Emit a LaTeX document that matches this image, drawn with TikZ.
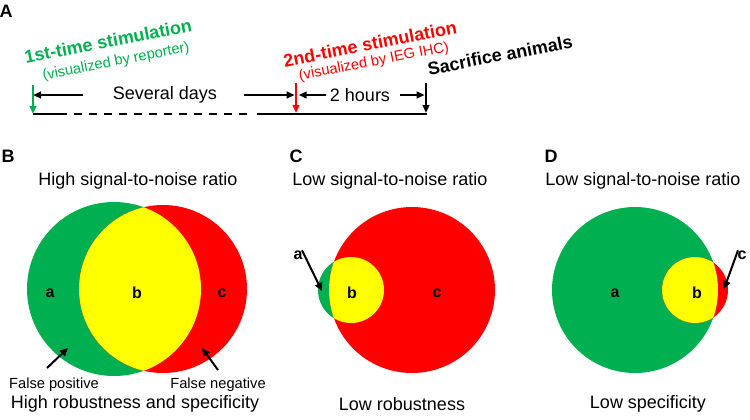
\documentclass[tikz,border=0pt]{standalone}
\usepackage{fontspec}
\setmainfont{Liberation Sans}
\usetikzlibrary{arrows.meta,positioning,calc}

\definecolor{vgreen}{RGB}{0,176,80}
\definecolor{vred}{RGB}{255,0,0}
\definecolor{vyellow}{RGB}{255,255,0}

\begin{document}
\begin{tikzpicture}[x=0.75pt, y=-0.75pt,
    panel/.style={font=\bfseries\fontsize{13.5}{16}\selectfont, inner sep=0pt},
    title/.style={font=\fontsize{13.5}{16}\selectfont, inner sep=0pt},
    note/.style={font=\fontsize{11}{13}\selectfont, inner sep=0pt},
    region/.style={font=\bfseries\fontsize{12}{14}\selectfont, inner sep=0pt},
    stim/.style={font=\bfseries\fontsize{13.5}{16}\selectfont, rotate=11, inner sep=0pt},
    via/.style={font=\fontsize{11}{13}\selectfont, rotate=11, inner sep=0pt},
    stimarrow/.style={line width=1.5pt, -{Triangle[length=6pt,width=5pt]}},
    spanarrow/.style={line width=1.5pt, -{Triangle[length=6pt,width=5pt]}},
    pointer/.style={line width=1.5pt, -{Triangle[length=6pt,width=5.5pt]}},
    axis/.style={line width=1.5pt}
  ]
  \useasboundingbox (0,0) rectangle (750,419);

  % A: timeline
  \node[panel] (panelA) at (6,11) {A};
  \coordinate (s1top) at (33,85);  \coordinate (s1) at (33,114);
  \coordinate (s2top) at (296,83); \coordinate (s2) at (296,113);
  \coordinate (s3top) at (426,83); \coordinate (s3) at (426,113);
  \coordinate (d1) at (67,114);  \coordinate (d2) at (74,114);
  \coordinate (d3) at (247,114); \coordinate (d4) at (257,114);
  \coordinate (end) at (427,114);
  \draw[axis] (s1) -- (d1);
  \draw[axis, dash pattern=on 6pt off 5.25pt] (d2) -- (d3);
  \draw[axis] (d4) -- (end);
  \draw[stimarrow, vgreen] (s1top) -- (s1);
  \draw[stimarrow, vred] (s2top) -- (s2);
  \draw[stimarrow] (s3top) -- (s3);

  % tilted headings
  \node[stim, text=vgreen] (first) at (108,41) {1st-time stimulation};
  \node[via, text=vgreen] (firstvia) at (116,62) {(visualized by reporter)};
  \node[stim, text=vred] (second) at (370,44) {2nd-time stimulation};
  \node[via, text=vred] (secondvia) at (374,62) {(visualized by IEG IHC)};
  \node[stim] (sacrifice) at (500,55) {Sacrifice animals};

  \node[title] (days) at (165,95) {Several days};
  \node[title] (hours) at (360,95) {2 hours};
  \draw[spanarrow] ([xshift=-22]days.west) -- (s1top |- days);
  \draw[spanarrow] ([xshift=20]days.east) -- ([xshift=-1]s2top |- days);
  \draw[spanarrow] ([xshift=-3]hours.west) -- ([xshift=2]s2top |- hours);
  \draw[spanarrow] ([xshift=7]hours.east) -- ([xshift=-1]s3top |- hours);

  % B: high signal-to-noise ratio
  \node[panel] (panelB) at (8,156) {B};
  \node[title] (titleB) at (138,181) {High signal-to-noise ratio};
  \fill[vgreen] (114,289) circle[radius=87];
  \fill[vred] (163,289) circle[radius=84];
  \begin{scope}
    \clip (114,289) circle[radius=87];
    \fill[vyellow] (163,289) circle[radius=84];
  \end{scope}
  \node[region] (aB) at (50,293) {a};
  \node[region] (bB) at (137,293) {b};
  \node[region] (cB) at (222,293) {c};
  \node[note] (fp) at (54,385) {False positive};
  \node[note] (fn) at (218,385) {False negative};
  \coordinate (fpfrom) at (47,368); \coordinate (fptip) at (68,348);
  \coordinate (fnfrom) at (218,370); \coordinate (fntip) at (202,348);
  \draw[pointer] (fpfrom) -- (fptip);
  \draw[pointer] (fnfrom) -- (fntip);
  \node[title] (bottomB) at (135,404) {High robustness and specificity};

  % C: low robustness
  \node[panel] (panelC) at (296,156) {C};
  \node[title, anchor=west] (titleC) at (292,181) {Low signal-to-noise ratio};
  \fill[vgreen] (351,290) circle[radius=33];
  \fill[vred] (412,290) circle[radius=83];
  \begin{scope}
    \clip (351,290) circle[radius=33];
    \fill[vyellow] (412,290) circle[radius=83];
  \end{scope}
  \node[region] (aC) at (298,255) {a};
  \node[region] (bC) at (352,293) {b};
  \node[region] (cC) at (437,293) {c};
  \coordinate (aCtip) at (322,291);
  \draw[pointer] ([xshift=3,yshift=7]aC.south) -- (aCtip);
  \node[title] (bottomC) at (402,404) {Low robustness};

  % D: low specificity
  \node[panel] (panelD) at (551,156) {D};
  \node[title, anchor=west] (titleD) at (545,181) {Low signal-to-noise ratio};
  \fill[vgreen] (635,290) circle[radius=83];
  \fill[vred] (695,290) circle[radius=33];
  \begin{scope}
    \clip (635,290) circle[radius=83];
    \fill[vyellow] (695,290) circle[radius=33];
  \end{scope}
  \node[region] (aD) at (615,293) {a};
  \node[region] (bD) at (697,293) {b};
  \node[region] (cD) at (742,255) {c};
  \coordinate (cDtip) at (724,289);
  \draw[pointer] ([xshift=-3,yshift=7]cD.south) -- (cDtip);
  \node[title] (bottomD) at (648,404) {Low specificity};
\end{tikzpicture}
\end{document}
